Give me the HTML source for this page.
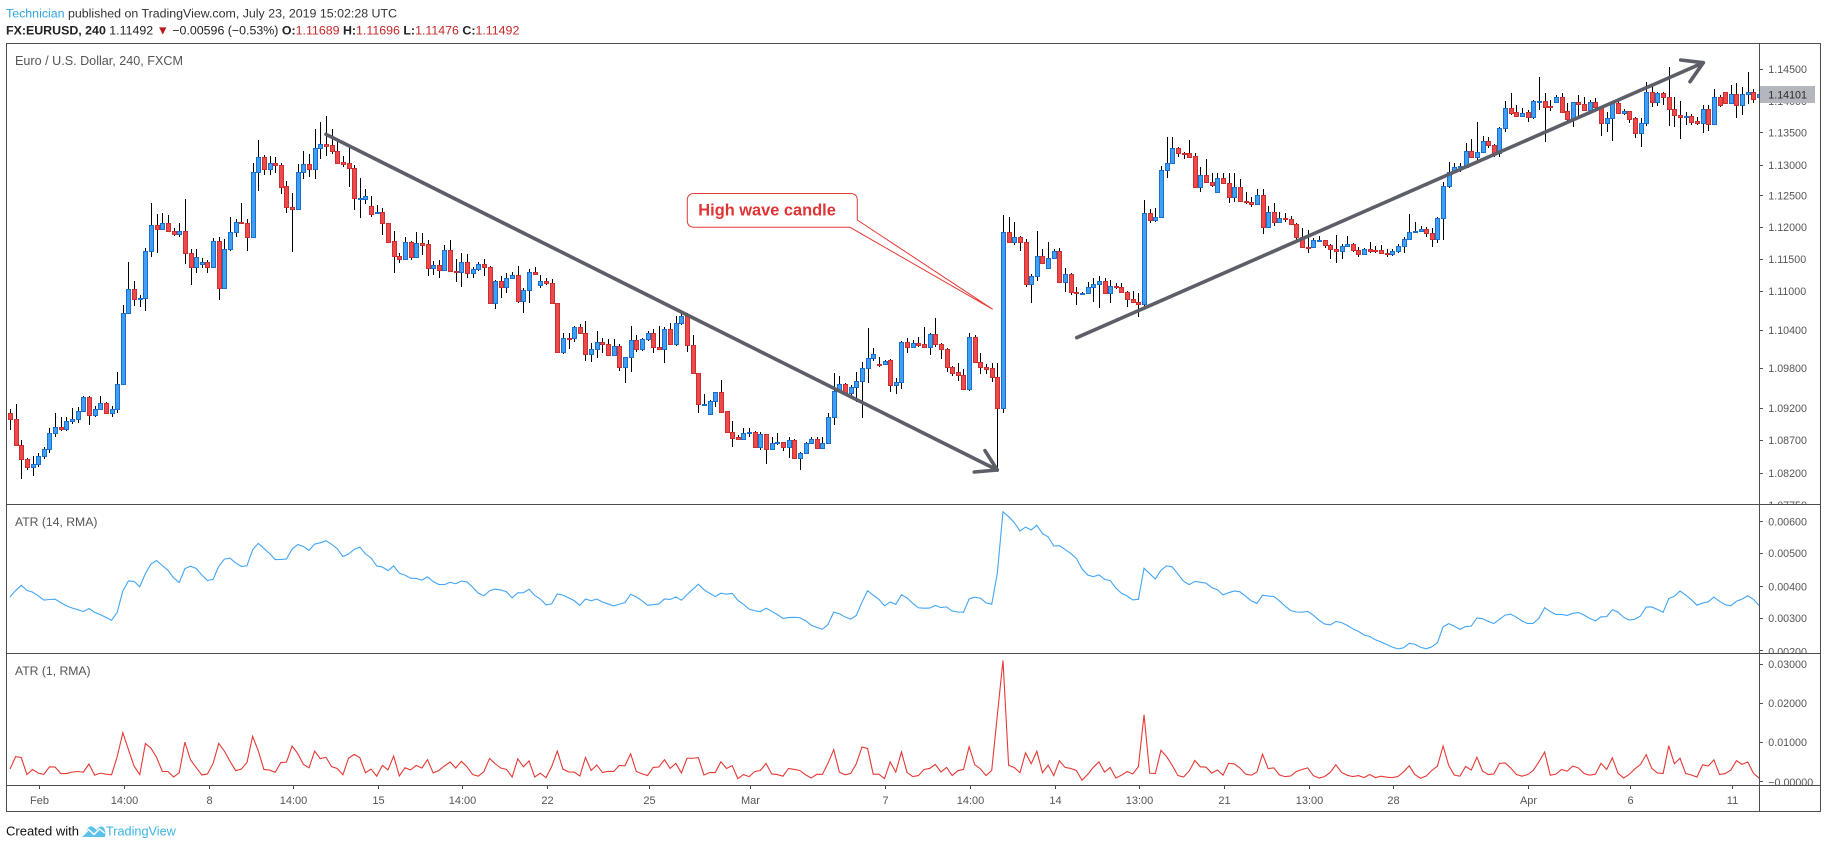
<!DOCTYPE html>
<html><head><meta charset="utf-8">
<style>
html,body{margin:0;padding:0;background:#fff;}
body{width:1828px;height:849px;overflow:hidden;position:relative;font-family:"Liberation Sans",Arial,sans-serif;}
svg{position:absolute;left:0;top:0;}
</style></head><body>
<svg id="c" width="1828" height="849" viewBox="0 0 1828 849" xmlns="http://www.w3.org/2000/svg" font-family="'Liberation Sans', Arial, sans-serif">
<defs>
<clipPath id="mainClip"><rect x="7" y="44" width="1752" height="460"/></clipPath>
<clipPath id="a14Clip"><rect x="7" y="505" width="1752" height="148"/></clipPath>
<clipPath id="a1Clip"><rect x="7" y="654" width="1752" height="131"/></clipPath>
<clipPath id="axMain"><rect x="1760" y="44" width="60" height="460"/></clipPath>
<clipPath id="ax14"><rect x="1760" y="505" width="60" height="148"/></clipPath>
<clipPath id="ax1"><rect x="1760" y="654" width="60" height="131"/></clipPath>
</defs>
<rect x="0" y="0" width="1828" height="849" fill="#fff"/>

<!-- header -->
<text x="6" y="17.5" font-size="12.4" fill="#333"><tspan fill="#2ea3dc">Technician</tspan> published on TradingView.com, July 23, 2019 15:02:28 UTC</text>
<text x="6" y="34.4" font-size="12.4" fill="#222"><tspan font-weight="bold">FX:EURUSD, 240</tspan> 1.11492 <tspan fill="#b71c1c">▼</tspan> −0.00596 (−0.53%) <tspan font-weight="bold">O:</tspan><tspan fill="#c62828">1.11689</tspan> <tspan font-weight="bold">H:</tspan><tspan fill="#c62828">1.11696</tspan> <tspan font-weight="bold">L:</tspan><tspan fill="#c62828">1.11476</tspan> <tspan font-weight="bold">C:</tspan><tspan fill="#c62828">1.11492</tspan></text>

<!-- pane titles -->
<text x="15" y="65.2" font-size="12.6" fill="#555">Euro / U.S. Dollar, 240, FXCM</text>
<text x="15" y="526" font-size="12.2" fill="#555">ATR (14, RMA)</text>
<text x="15" y="675" font-size="12.2" fill="#555">ATR (1, RMA)</text>

<g id="candles" clip-path="url(#mainClip)"></g>
<g clip-path="url(#a14Clip)"><polyline id="atr14" fill="none" stroke="#42a5f5" stroke-width="1.1" points=""/></g>
<g clip-path="url(#a1Clip)"><polyline id="atr1" fill="none" stroke="#e53935" stroke-width="1.1" points=""/></g>

<!-- trend lines -->
<g stroke="#5d5f68" stroke-width="3.6" stroke-linecap="round" stroke-linejoin="round" fill="none" clip-path="url(#mainClip)">
<line x1="326" y1="134.3" x2="997.3" y2="470"/>
<polyline points="974.3,472 997.3,470 985,450.7"/>
<line x1="1076.7" y1="337.7" x2="1703.3" y2="62.7"/>
<polyline points="1680.7,60 1703.3,62.7 1690,81.7"/>
</g>

<!-- callout -->
<path d="M694.3,193.5 L850.3,193.5 Q857.3,193.5 857.3,200.5 L857.3,220 L992.7,309.3 L850,227.3 L694.3,227.3 Q687.3,227.3 687.3,220.3 L687.3,200.5 Q687.3,193.5 694.3,193.5 Z" fill="#fff" stroke="#e53935" stroke-width="1"/>
<text x="698.3" y="215.7" font-size="16.4" font-weight="bold" fill="#e03434">High wave candle</text>

<!-- frame -->
<g stroke="#4d4d4d" stroke-width="1" fill="none">
<rect x="6.5" y="43.5" width="1814" height="768"/>
<line x1="1759.5" y1="43.5" x2="1759.5" y2="811.5"/>
<line x1="6.5" y1="504.5" x2="1820.5" y2="504.5"/>
<line x1="6.5" y1="653.5" x2="1820.5" y2="653.5"/>
<line x1="6.5" y1="785.5" x2="1820.5" y2="785.5"/>
</g>

<!-- price axis -->
<g font-size="10.7" fill="#555" clip-path="url(#axMain)">
<text x="1768.3" y="73.2">1.14500</text>
<text x="1768.3" y="105.2">1.14000</text>
<text x="1768.3" y="136.6">1.13500</text>
<text x="1768.3" y="168.9">1.13000</text>
<text x="1768.3" y="199.6">1.12500</text>
<text x="1768.3" y="231.2">1.12000</text>
<text x="1768.3" y="263.2">1.11500</text>
<text x="1768.3" y="294.9">1.11000</text>
<text x="1768.3" y="333.9">1.10400</text>
<text x="1768.3" y="372.2">1.09800</text>
<text x="1768.3" y="412.2">1.09200</text>
<text x="1768.3" y="443.9">1.08700</text>
<text x="1768.3" y="477.2">1.08200</text>
<text x="1768.3" y="508.9">1.07750</text>
</g>
<g stroke="#4d4d4d" stroke-width="1">
<line x1="1759.5" y1="69.5" x2="1763" y2="69.5"/>
<line x1="1759.5" y1="101.5" x2="1763" y2="101.5"/>
<line x1="1759.5" y1="132.5" x2="1763" y2="132.5"/>
<line x1="1759.5" y1="165.5" x2="1763" y2="165.5"/>
<line x1="1759.5" y1="195.5" x2="1763" y2="195.5"/>
<line x1="1759.5" y1="227.5" x2="1763" y2="227.5"/>
<line x1="1759.5" y1="259.5" x2="1763" y2="259.5"/>
<line x1="1759.5" y1="291.5" x2="1763" y2="291.5"/>
<line x1="1759.5" y1="330.5" x2="1763" y2="330.5"/>
<line x1="1759.5" y1="368.5" x2="1763" y2="368.5"/>
<line x1="1759.5" y1="408.5" x2="1763" y2="408.5"/>
<line x1="1759.5" y1="440.5" x2="1763" y2="440.5"/>
<line x1="1759.5" y1="473.5" x2="1763" y2="473.5"/>
<line x1="1759.5" y1="521.5" x2="1763" y2="521.5"/>
<line x1="1759.5" y1="553.5" x2="1763" y2="553.5"/>
<line x1="1759.5" y1="586.5" x2="1763" y2="586.5"/>
<line x1="1759.5" y1="618.5" x2="1763" y2="618.5"/>
<line x1="1759.5" y1="650.5" x2="1763" y2="650.5"/>
<line x1="1759.5" y1="664.5" x2="1763" y2="664.5"/>
<line x1="1759.5" y1="703.5" x2="1763" y2="703.5"/>
<line x1="1759.5" y1="742.5" x2="1763" y2="742.5"/>
<line x1="1759.5" y1="781.5" x2="1763" y2="781.5"/>
</g>
<rect x="1760" y="86" width="55" height="17" fill="#b4b6bd"/>
<text x="1768.3" y="98.3" font-size="10.7" fill="#2a2a2a">1.14101</text>

<g font-size="10.7" fill="#555" clip-path="url(#ax14)">
<text x="1768.3" y="525.6">0.00600</text>
<text x="1768.3" y="557.2">0.00500</text>
<text x="1768.3" y="590.6">0.00400</text>
<text x="1768.3" y="622.2">0.00300</text>
<text x="1768.3" y="655.4">0.00200</text>
</g>
<g font-size="10.7" fill="#555" clip-path="url(#ax1)">
<text x="1768.3" y="668.2">0.03000</text>
<text x="1768.3" y="707.2">0.02000</text>
<text x="1768.3" y="746.2">0.01000</text>
<text x="1768.3" y="785.9">−0.00000</text>
</g>

<!-- time axis -->
<g stroke="#4d4d4d" stroke-width="1">
<line x1="39.5" y1="785.5" x2="39.5" y2="789"/>
<line x1="124.5" y1="785.5" x2="124.5" y2="789"/>
<line x1="209.5" y1="785.5" x2="209.5" y2="789"/>
<line x1="293.5" y1="785.5" x2="293.5" y2="789"/>
<line x1="378.5" y1="785.5" x2="378.5" y2="789"/>
<line x1="462.5" y1="785.5" x2="462.5" y2="789"/>
<line x1="547.5" y1="785.5" x2="547.5" y2="789"/>
<line x1="649.5" y1="785.5" x2="649.5" y2="789"/>
<line x1="750.5" y1="785.5" x2="750.5" y2="789"/>
<line x1="885.5" y1="785.5" x2="885.5" y2="789"/>
<line x1="970.5" y1="785.5" x2="970.5" y2="789"/>
<line x1="1055.5" y1="785.5" x2="1055.5" y2="789"/>
<line x1="1139.5" y1="785.5" x2="1139.5" y2="789"/>
<line x1="1224.5" y1="785.5" x2="1224.5" y2="789"/>
<line x1="1309.5" y1="785.5" x2="1309.5" y2="789"/>
<line x1="1393.5" y1="785.5" x2="1393.5" y2="789"/>
<line x1="1528.5" y1="785.5" x2="1528.5" y2="789"/>
<line x1="1630.5" y1="785.5" x2="1630.5" y2="789"/>
<line x1="1732.5" y1="785.5" x2="1732.5" y2="789"/>
</g>
<g font-size="11" fill="#555" text-anchor="middle">
<text x="39.5" y="804">Feb</text>
<text x="124.5" y="804">14:00</text>
<text x="209.5" y="804">8</text>
<text x="293.5" y="804">14:00</text>
<text x="378.5" y="804">15</text>
<text x="462.5" y="804">14:00</text>
<text x="547.5" y="804">22</text>
<text x="649.5" y="804">25</text>
<text x="750.5" y="804">Mar</text>
<text x="885.5" y="804">7</text>
<text x="970.5" y="804">14:00</text>
<text x="1055.5" y="804">14</text>
<text x="1139.5" y="804">13:00</text>
<text x="1224.5" y="804">21</text>
<text x="1309.5" y="804">13:00</text>
<text x="1393.5" y="804">28</text>
<text x="1528.5" y="804">Apr</text>
<text x="1630.5" y="804">6</text>
<text x="1732.5" y="804">11</text>
</g>

<!-- footer -->
<text x="6" y="835.5" font-size="13" fill="#111">Created with</text>
<path d="M82,837 L88,828 Q90,825 93,827 L97,830 Q100,824 104,828 Q106,831 105,837 Z" fill="#5cc1ea"/>
<polyline points="82.5,836 88.5,829.5 94,834.5 99.5,829 104.5,833" fill="none" stroke="#fff" stroke-width="1.4"/>
<text x="106" y="835.5" font-size="12.7" fill="#3bb3e4">TradingView</text>
</svg>

<script>
(function(){
var D=[
[1120,1138,1108,1170,0],[1138,1215,1092,1215,0],[1215,1258,1200,1318,0],[1258,1282,1255,1290,0],[1272,1280,1248,1308,1],
[1248,1272,1238,1280,1],[1228,1248,1222,1258,1],[1180,1228,1165,1238,1],[1162,1180,1118,1190,1],[1162,1168,1132,1172,0],
[1143,1168,1132,1172,1],[1138,1143,1105,1152,1],[1112,1138,1100,1150,1],[1072,1112,1068,1115,1],[1072,1125,1068,1155,0],
[1108,1125,1098,1130,1],[1090,1108,1068,1110,1],[1090,1120,1085,1122,0],[1108,1120,1098,1132,1],[1032,1108,995,1118,1],
[820,1032,795,1035,1],[748,820,665,822,1],[748,778,722,798,0],[774,778,765,800,1],[633,775,625,812,1],
[556,633,488,652,1],[556,568,522,640,0],[550,568,520,570,1],[550,572,525,575,0],[572,582,565,588,0],
[572,582,548,592,1],[572,640,478,672,0],[640,680,628,735,0],[652,680,628,698,1],[666,672,655,685,1],
[666,680,660,698,0],[603,680,595,685,1],[603,745,592,780,0],[628,745,598,748,1],[577,628,532,632,1],
[545,577,538,592,1],[545,550,490,552,0],[550,590,538,632,0],[395,590,370,592,1],[352,395,300,452,1],
[352,388,345,405,0],[370,388,348,405,1],[370,376,352,398,0],[376,440,368,462,0],[438,500,422,518,0],
[500,508,460,635,0],[395,508,372,510,1],[373,395,333,418,1],[373,388,342,410,0],[325,388,268,418,1],
[313,325,245,358,1],[313,318,228,348,0],[316,332,268,342,0],[332,368,305,370,0],[366,372,348,382,0],
[370,383,325,440,0],[383,475,376,510,0],[474,476,415,533,1],[468,476,448,492,1],[498,522,468,530,0],
[515,520,495,522,1],[515,550,505,585,0],[550,605,548,606,0],[603,647,572,698,0],[647,656,640,668,0],
[607,656,590,658,1],[607,650,602,660,0],[610,650,575,655,1],[610,615,578,645,0],[613,683,600,708,0],
[676,683,662,705,1],[676,690,660,715,0],[630,690,615,692,1],[630,693,600,697,0],[693,697,658,725,0],
[667,697,640,740,1],[667,700,642,715,0],[688,700,680,715,1],[673,688,665,692,1],[673,682,658,708,0],
[682,788,678,792,0],[724,788,720,808,1],[724,742,708,775,0],[715,742,698,758,1],[706,715,695,718,1],
[706,784,678,790,0],[750,784,745,818,1],[697,750,688,790,1],[697,703,682,705,0],[724,736,705,745,1],
[724,730,715,735,0],[730,790,718,792,0],[790,937,790,940,0],[895,937,880,942,1],[893,896,880,928,0],
[862,895,858,905,1],[862,878,852,880,0],[878,943,843,962,0],[928,943,910,965,1],[907,928,873,955,1],
[907,913,895,940,0],[913,946,897,948,0],[918,946,898,948,1],[918,982,912,992,0],[952,982,950,1028,1],
[901,952,858,995,1],[901,928,885,935,0],[897,928,893,932,1],[880,897,872,902,1],[880,922,868,938,0],
[922,928,858,930,0],[868,928,862,970,1],[868,912,850,915,0],[850,912,828,918,1],[828,850,812,855,1],
[828,916,820,935,0],[916,1000,885,1000,0],[1000,1093,1000,1118,0],[1092,1094,1062,1095,1],[1083,1123,1080,1125,1],
[1057,1083,1055,1100,1],[1057,1115,1020,1118,0],[1113,1175,1113,1178,0],[1175,1193,1143,1222,0],[1192,1198,1185,1200,0],
[1178,1198,1165,1200,1],[1175,1178,1165,1190,1],[1175,1220,1172,1222,0],[1183,1220,1175,1230,1],[1183,1228,1182,1272,0],
[1210,1228,1192,1230,1],[1207,1210,1180,1215,1],[1207,1222,1205,1232,0],[1200,1222,1190,1255,1],[1200,1255,1198,1258,0],
[1238,1255,1235,1290,1],[1208,1238,1206,1240,1],[1198,1208,1192,1210,1],[1198,1225,1192,1228,0],[1210,1225,1190,1226,1],
[1130,1210,1120,1212,1],[1053,1130,998,1155,1],[1033,1053,1008,1055,1],[1033,1058,1028,1062,0],[1040,1058,1035,1075,1],
[1022,1040,997,1085,1],[985,1022,965,1135,1],[953,985,865,1028,1],[943,953,925,962,1],[972,974,952,980,0],
[962,972,960,975,1],[960,1035,958,1055,0],[1027,1035,1015,1062,1],[907,1027,902,1048,1],[907,922,895,940,0],
[910,922,900,925,1],[910,915,890,920,0],[912,920,862,922,0],[883,920,880,945,1],[883,913,835,920,0],
[913,928,910,958,0],[928,982,925,995,0],[982,998,978,1008,0],[997,1006,968,1022,0],[1006,1046,988,1048,0],
[892,1046,880,1052,1],[892,965,885,968,0],[965,982,940,1003,0],[982,986,972,1002,0],[985,1012,970,1025,0],
[1012,1105,968,1295,0],[575,1105,525,1120,1],[575,607,530,610,0],[592,607,545,615,1],[592,607,588,632,0],
[607,733,598,740,0],[707,733,702,790,1],[647,707,573,722,1],[647,670,628,672,0],[655,685,607,688,1],
[632,655,628,658,1],[632,725,625,728,0],[703,725,685,755,1],[703,755,700,765,0],[755,760,740,795,0],
[758,761,755,762,1],[740,758,725,760,1],[733,740,715,785,1],[724,733,708,805,1],[724,760,715,762,0],
[737,760,720,790,1],[737,742,730,748,0],[742,755,728,760,0],[755,778,752,802,0],[778,785,752,790,0],
[785,793,758,832,0],[520,793,480,808,1],[520,540,508,550,0],[530,540,505,545,1],[390,530,378,532,1],
[370,390,292,415,1],[325,370,292,372,1],[325,340,320,350,0],[340,342,335,358,0],[340,350,300,352,0],
[348,440,338,442,0],[406,440,382,455,1],[406,425,357,428,0],[425,435,400,442,0],[415,455,400,458,1],
[415,430,400,432,0],[430,470,400,490,0],[442,470,398,485,1],[442,482,418,485,0],[482,485,455,492,0],
[485,493,470,502,0],[466,493,448,495,1],[466,560,448,583,0],[515,560,498,562,1],[515,545,490,558,0],
[533,545,515,548,1],[533,537,520,545,0],[536,553,528,556,0],[553,590,550,600,0],[590,622,565,625,0],
[620,623,570,638,0],[600,622,595,625,1],[601,603,588,606,1],[601,615,600,625,0],[615,628,612,658,0],
[628,632,585,668,0],[617,632,612,658,1],[613,617,588,620,1],[613,630,610,635,0],[630,643,620,650,0],
[628,643,625,645,1],[628,632,605,640,0],[630,633,618,638,0],[630,640,615,642,0],[640,643,628,650,0],
[634,643,628,648,1],[618,634,612,638,1],[598,618,592,640,1],[577,598,522,600,1],[574,577,545,580,1],
[568,574,558,575,1],[568,580,562,590,0],[580,598,565,620,0],[535,598,532,608,1],[438,535,425,600,1],
[397,438,365,445,1],[380,397,368,400,1],[378,380,368,395,1],[333,380,310,385,1],[333,352,298,355,0],
[337,352,245,365,1],[303,337,288,340,1],[303,315,290,325,0],[315,338,312,350,0],[265,338,260,350,1],
[205,265,183,275,1],[205,218,158,225,0],[216,228,195,230,0],[218,228,205,232,1],[216,232,210,245,0],
[183,232,180,236,1],[183,185,112,210,1],[183,200,160,305,0],[198,202,180,212,0],[172,185,165,188,1],
[172,215,158,218,0],[213,238,190,242,0],[187,238,185,262,1],[187,193,165,232,0],[193,210,172,212,0],
[185,210,180,212,1],[185,202,175,212,0],[202,248,198,288,0],[235,248,215,275,1],[190,235,185,302,1],
[190,220,180,222,0],[213,220,207,225,1],[213,236,212,248,0],[235,280,232,295,0],[248,280,235,320,1],
[157,248,125,258,1],[157,187,135,200,0],[160,187,155,198,1],[160,172,155,195,0],[172,208,82,258,0],
[208,226,172,260,0],[226,230,183,298,0],[228,230,215,255,1],[228,245,222,255,0],[243,250,232,255,0],
[208,250,195,278,1],[208,253,195,272,0],[170,253,148,255,1],[170,195,165,200,0],[155,190,155,192,0],
[163,190,135,192,1],[163,195,130,233,0],[163,195,140,225,1],[157,163,95,192,1],[157,178,148,190,0],
[163,170,160,172,1]
];
var S=5.642, NS="http://www.w3.org/2000/svg";
var g=document.getElementById('candles');
var html='';
var pc=null, a=0.00367, p14=[], p1=[];
for(var i=0;i<D.length;i++){
  var d=D[i], t=d[0], b=d[1], wt=d[2], wb=d[3], bl=d[4];
  var xr=10+i*S, cx=Math.round(xr);
  var yt=Math.round(40+t/3), yb=Math.round(40+b/3), ywt=Math.round(40+wt/3), ywb=Math.round(40+wb/3);
  html+='<line x1="'+(cx+0.5)+'" y1="'+ywt+'" x2="'+(cx+0.5)+'" y2="'+ywb+'" stroke="#000" stroke-width="1"/>';
  var h=Math.max(yb-yt,1);
  var fill=bl?'#3f9ff0':'#ee4a4a', st=bl?'#1b70cf':'#cc2f2f';
  html+='<rect x="'+(cx-1.5)+'" y="'+(yt+0.5)+'" width="4" height="'+h+'" fill="'+fill+'" stroke="'+st+'" stroke-width="1"/>';
  // ATR
  var c=bl?t:b, hi=wt, lo=wb;
  if(pc!==null){hi=Math.min(hi,pc);lo=Math.max(lo,pc);}
  var tr=(lo-hi)/19200;
  if(i>0) a=(a*13+tr)/14;
  pc=c;
  p14.push(xr.toFixed(2)+','+(521.7+(0.006-a)*32250).toFixed(2));
  p1.push(xr.toFixed(2)+','+(781.7-tr*3915).toFixed(2));
}
g.innerHTML=html;
document.getElementById('atr14').setAttribute('points',p14.join(' '));
document.getElementById('atr1').setAttribute('points',p1.join(' '));
})();
</script>
</body></html>
